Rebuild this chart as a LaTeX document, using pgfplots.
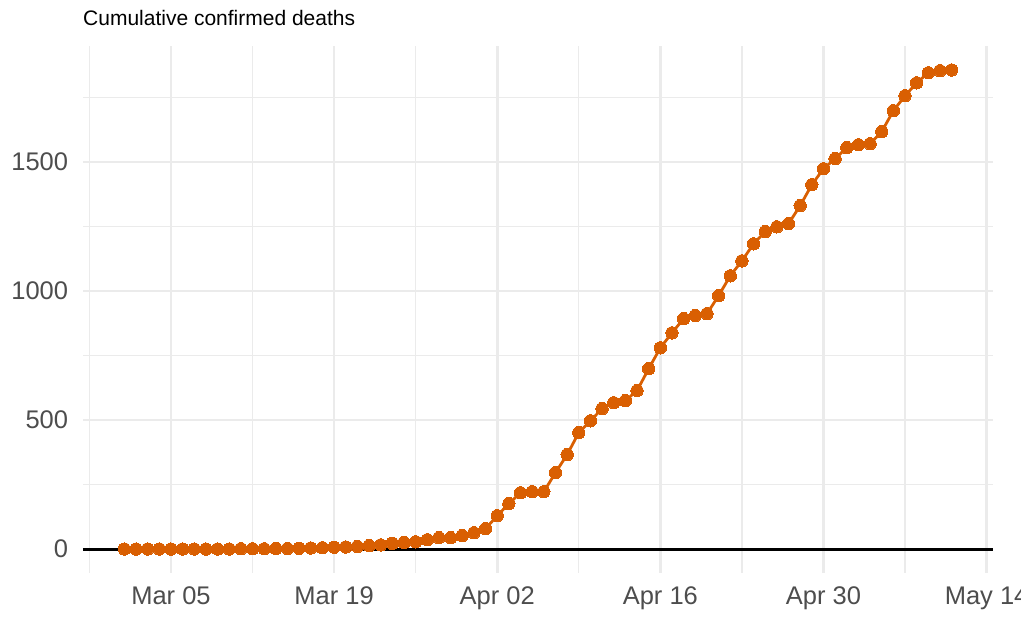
\documentclass[border=0pt]{standalone}
\usepackage{fontspec}
\setmainfont{Liberation Sans}
\usepackage{pgfplots}
\pgfplotsset{compat=1.18}
\definecolor{pts}{HTML}{D95F02}
\definecolor{gridc}{HTML}{EBEBEB}
\definecolor{tickc}{HTML}{4D4D4D}
\begin{document}
\begin{tikzpicture}
\begin{axis}[
  scale only axis, width=910pt, height=527pt,
  xmin=-3.55, xmax=74.55, ymin=-92.9, ymax=1949.9,
  axis line style={draw=none},
  major tick length=0pt, minor tick length=0pt,
  xtick={4,18,32,46,60,74},
  xticklabels={Mar 05,Mar 19,Apr 02,Apr 16,Apr 30,May 14},
  minor xtick={-3,11,25,39,53,67},
  ytick={0,500,1000,1500}, minor ytick={250,750,1250,1750},
  grid=both,
  major grid style={gridc, line width=2.8pt},
  minor grid style={gridc, line width=1.4pt},
  tick label style={font=\fontsize{25.5}{30}\selectfont, text=tickc, inner sep=0pt},
  /pgf/number format/assume math mode=true,
  /pgf/number format/1000 sep={},
  xticklabel style={anchor=north, yshift=-13.7pt},
  yticklabel style={anchor=east, xshift=-14.7pt},
  clip=false,
]
\coordinate (SW) at (rel axis cs:0,0);
\coordinate (NE) at (rel axis cs:1,1);
\coordinate (NW) at (rel axis cs:0,1);
\addplot[black, line width=3pt] coordinates {(-3.55,0) (74.55,0)};
\addplot[pts, line width=2.8pt, mark=*, mark size=6.2pt, mark options={fill=pts, draw=pts, line width=0pt}] table {
x y
0 0
1 0
2 0
3 0
4 0
5 0
6 0
7 0
8 0
9 0
10 1
11 1
12 1
13 2
14 2
15 3
16 4
17 5
18 7
19 8
20 10
21 13
22 16
23 22
24 25
25 28
26 36
27 44
28 44
29 52
30 63
31 79
32 129
33 176
34 218
35 222
36 222
37 296
38 366
39 451
40 497
41 544
42 567
43 575
44 614
45 699
46 780
47 838
48 893
49 905
50 912
51 982
52 1059
53 1117
54 1183
55 1230
56 1249
57 1261
58 1331
59 1412
60 1474
61 1513
62 1556
63 1567
64 1571
65 1618
66 1699
67 1757
68 1807
69 1846
70 1854
71 1857
};
\end{axis}
\node[anchor=base west, inner sep=0pt, font=\fontsize{21}{25}\selectfont] at ([shift={(0pt,20pt)}]NW) {Cumulative confirmed deaths};
\pgfresetboundingbox
\path[use as bounding box] ([shift={(-83pt,-44pt)}]SW) rectangle ([shift={(28pt,46pt)}]NE);
\end{tikzpicture}
\end{document}
